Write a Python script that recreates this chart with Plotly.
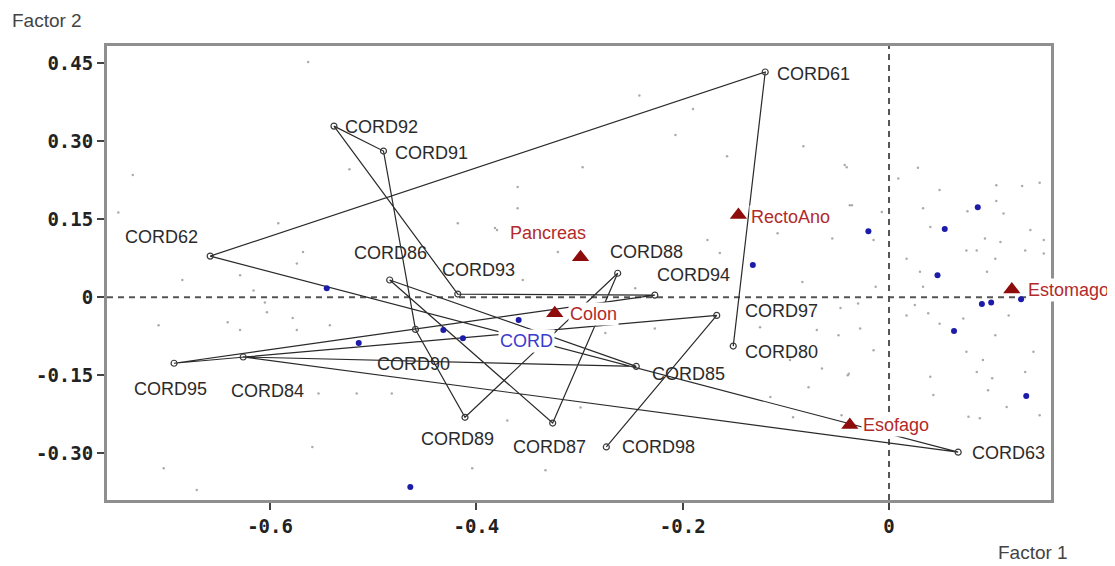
import plotly.graph_objects as go

# ---------------- data ----------------
# trajectory points (in drawing order)
cord_names = ["CORD80", "CORD61", "CORD62", "CORD63", "CORD84", "CORD85", "CORD86",
              "CORD87", "CORD88", "CORD89", "CORD90", "CORD91", "CORD92", "CORD93",
              "CORD94", "CORD95", "CORD97", "CORD98"]
cord_x = [-0.151, -0.120, -0.658, 0.067, -0.626, -0.245, -0.484,
          -0.326, -0.263, -0.411, -0.459, -0.490, -0.538, -0.418,
          -0.227, -0.693, -0.167, -0.274]
cord_y = [-0.094, 0.433, 0.079, -0.298, -0.115, -0.133, 0.033,
          -0.242, 0.046, -0.231, -0.062, 0.281, 0.329, 0.006,
          0.004, -0.127, -0.035, -0.288]

# supplementary categories (red triangles)
cat_names = ["Pancreas", "RectoAno", "Colon", "Esofago", "Estomago"]
cat_x = [-0.299, -0.146, -0.324, -0.038, 0.119]
cat_y = [0.077, 0.158, -0.031, -0.246, 0.015]

# blue points
blue_x = [-0.545, -0.514, -0.432, -0.413, -0.359, -0.132, -0.464, -0.020, 0.054,
          0.086, 0.047, 0.090, 0.099, 0.128, 0.063, 0.133]
blue_y = [0.017, -0.088, -0.063, -0.079, -0.044, 0.062, -0.365, 0.127, 0.131,
          0.173, 0.042, -0.013, -0.010, -0.004, -0.065, -0.190]
blue_label = "CORD"
blue_label_x = -0.359
blue_label_y = -0.044

# faint grey background points
grey_x = [-0.043, 0.009, 0.028, 0.049, 0.104, 0.129, 0.146, -0.038, -0.007, 0.033,
          0.076, 0.104, 0.111, 0.040, -0.015, 0.093, 0.108, 0.137, 0.150, 0.017,
          0.030, 0.085, 0.103, 0.132, 0.150, 0.075, 0.095, 0.033, -0.013, -0.030,
          0.025, 0.017, 0.038, 0.072, 0.116, -0.028, 0.049, 0.103, -0.015, 0.075,
          0.091, 0.085, 0.040, 0.100, 0.132, 0.140, -0.039, 0.043, 0.114, 0.096,
          0.146, 0.088, 0.077,
          -0.563, -0.733, -0.747, -0.592, -0.523, -0.418, -0.242, -0.190, -0.207,
          -0.157, -0.083, -0.041, -0.297, -0.360, -0.360, -0.036, -0.382, -0.685,
          -0.629, -0.616, -0.568, -0.574, -0.708, -0.641, -0.629, -0.578, -0.574,
          -0.542, -0.605, -0.603, -0.553, -0.516, -0.482, -0.559, -0.703, -0.404,
          -0.380, -0.321, -0.355, -0.246, -0.227, -0.275, -0.370, -0.299, -0.333,
          -0.108, -0.055, -0.084, -0.070, -0.049, -0.047, -0.125, -0.096, -0.065,
          -0.115, -0.078, -0.093, -0.046, -0.040, -0.164, -0.176, -0.671]
grey_y = [0.254, 0.228, 0.249, 0.206, 0.215, 0.214, 0.220, 0.177, 0.164, 0.171,
          0.165, 0.185, 0.161, 0.135, 0.110, 0.113, 0.106, 0.129, 0.110, 0.074,
          0.049, 0.090, 0.074, 0.090, 0.084, 0.090, 0.049, 0.020, 0.020, -0.012,
          -0.015, -0.035, -0.031, -0.041, -0.035, -0.060, -0.051, -0.073, -0.102, -0.105,
          -0.121, -0.144, -0.153, -0.156, -0.144, -0.105, -0.147, -0.188, -0.211, -0.179,
          -0.227, -0.233, -0.230,
          0.452, 0.235, 0.163, 0.142, 0.246, 0.142, 0.388, 0.362, 0.312,
          0.271, 0.290, 0.250, 0.250, 0.212, 0.171, 0.177, 0.133, 0.033,
          0.042, 0.013, 0.087, 0.065, -0.054, -0.048, -0.063, -0.040, -0.063,
          -0.054, -0.010, -0.029, -0.185, -0.185, -0.185, -0.288, -0.329, -0.329,
          0.129, 0.087, 0.033, 0.017, -0.060, -0.069, -0.237, -0.212, -0.333,
          0.123, 0.113, 0.029, -0.063, -0.073, -0.021, -0.058, -0.121, -0.137,
          -0.192, -0.173, -0.231, -0.227, -0.150, 0.085, 0.110, -0.371]

y_tick_vals = [0.45, 0.30, 0.15, 0.0, -0.15, -0.30]
y_tick_text = ["0.45", "0.30", "0.15", "0", "-0.15", "-0.30"]
x_tick_vals = [-0.6, -0.4, -0.2, 0.0]
x_tick_text = ["-0.6", "-0.4", "-0.2", "0"]

# ---------------- styles (label offsets in px) ----------------
cord_label_style = {
    "CORD80": ("left", 10, -6), "CORD61": ("left", 10, -2), "CORD62": ("right", -10, 19),
    "CORD63": ("left", 12, -1), "CORD84": ("center", 24, -34), "CORD85": ("left", 14, -8),
    "CORD86": ("center", 1, 27), "CORD87": ("center", -3, -24), "CORD88": ("left", -10, 21),
    "CORD89": ("center", -8, -22), "CORD90": ("center", -2, -35), "CORD91": ("left", 10, -2),
    "CORD92": ("left", 9, -1), "CORD93": ("left", -18, 24), "CORD94": ("left", 0, 20),
    "CORD95": ("center", -4, -26), "CORD97": ("left", 26, 4), "CORD98": ("left", 14, 0),
}
cat_label_style = {
    "Pancreas": ("center", -33, 24), "RectoAno": ("left", 11, -2), "Colon": ("left", 13, -1),
    "Esofago": ("left", 11, 0), "Estomago": ("left", 14, -1),
}

LBL_FONT = "Liberation Sans, Arial, sans-serif"
RED_TXT = "#b22a2a"
RED_MK = "#8e0c0c"
BLUE_MK = "#1c1ca8"
BLUE_TXT = "#3b3bcc"

fig = go.Figure()

fig.add_trace(go.Scatter(x=grey_x, y=grey_y, mode="markers",
                         marker=dict(size=2.5, color="#ababab"),
                         hoverinfo="skip", showlegend=False))

fig.add_trace(go.Scatter(x=cord_x, y=cord_y, mode="lines+markers",
                         line=dict(color="#2a2a2a", width=1.2),
                         marker=dict(symbol="circle-open", size=6, color="#3a3a3a",
                                     line=dict(width=1.2)),
                         showlegend=False))

fig.add_trace(go.Scatter(x=blue_x, y=blue_y, mode="markers",
                         marker=dict(size=6, color=BLUE_MK), showlegend=False))

fig.add_trace(go.Scatter(x=cat_x, y=cat_y, mode="markers",
                         marker=dict(symbol="triangle-up", size=15, color=RED_MK),
                         showlegend=False))

annotations = []
for n, x, y in zip(cord_names, cord_x, cord_y):
    anc, dx, dy = cord_label_style[n]
    annotations.append(dict(x=x, y=y, xref="x", yref="y", text=n, showarrow=False,
                            xanchor=anc, yanchor="middle", xshift=dx, yshift=dy,
                            font=dict(family=LBL_FONT, size=18, color="#2b2b2b")))
for n, x, y in zip(cat_names, cat_x, cat_y):
    anc, dx, dy = cat_label_style[n]
    annotations.append(dict(x=x, y=y, xref="x", yref="y", text=n, showarrow=False,
                            xanchor=anc, yanchor="middle", xshift=dx, yshift=dy,
                            bgcolor="white", borderpad=1,
                            font=dict(family=LBL_FONT, size=18, color=RED_TXT)))
annotations.append(dict(x=blue_label_x, y=blue_label_y, xref="x", yref="y", text=blue_label,
                        showarrow=False, xanchor="center", yanchor="middle", xshift=8, yshift=-21,
                        bgcolor="white", borderpad=1,
                        font=dict(family=LBL_FONT, size=18, color=BLUE_TXT)))
# axis titles
annotations.append(dict(x=-0.103, y=1.057, xref="paper", yref="paper", text="Factor 2",
                        showarrow=False, xanchor="left", yanchor="middle",
                        font=dict(family=LBL_FONT, size=19, color="#444444")))
annotations.append(dict(x=0.981, y=-0.115, xref="paper", yref="paper", text="Factor 1",
                        showarrow=False, xanchor="center", yanchor="middle",
                        font=dict(family=LBL_FONT, size=19, color="#444444")))

shapes = [
    dict(type="line", xref="x", yref="paper", x0=0, x1=0, y0=0, y1=1, layer="below",
         line=dict(color="#555555", width=2, dash="6px,5px")),
    dict(type="line", xref="paper", yref="y", x0=0, x1=1, y0=0, y1=0, layer="below",
         line=dict(color="#555555", width=2, dash="6px,5px")),
]

tick_font = dict(family="DejaVu Sans Mono, Liberation Mono, monospace", size=19,
                 color="#222222", weight="bold")

# the page places the figure 8 px from the top-left corner
fig.update_layout(
    width=1107, height=558,
    margin=dict(l=99, r=64, t=38, b=66),
    paper_bgcolor="white", plot_bgcolor="white",
    annotations=annotations, shapes=shapes,
    xaxis=dict(range=[-0.758, 0.157], showgrid=False, zeroline=False,
               tickmode="array", tickvals=x_tick_vals, ticktext=x_tick_text,
               ticks="outside", ticklen=7, tickwidth=1.5, tickcolor="#444444",
               showline=True, linewidth=3, linecolor="#8f8f8f", mirror=True,
               tickfont=tick_font),
    yaxis=dict(range=[-0.390, 0.483], showgrid=False, zeroline=False,
               tickmode="array", tickvals=y_tick_vals, ticktext=y_tick_text,
               ticks="outside", ticklen=7, tickwidth=1.5, tickcolor="#444444",
               showline=True, linewidth=3, linecolor="#8f8f8f", mirror=True,
               tickfont=tick_font),
)

fig.write_html("out.html")
